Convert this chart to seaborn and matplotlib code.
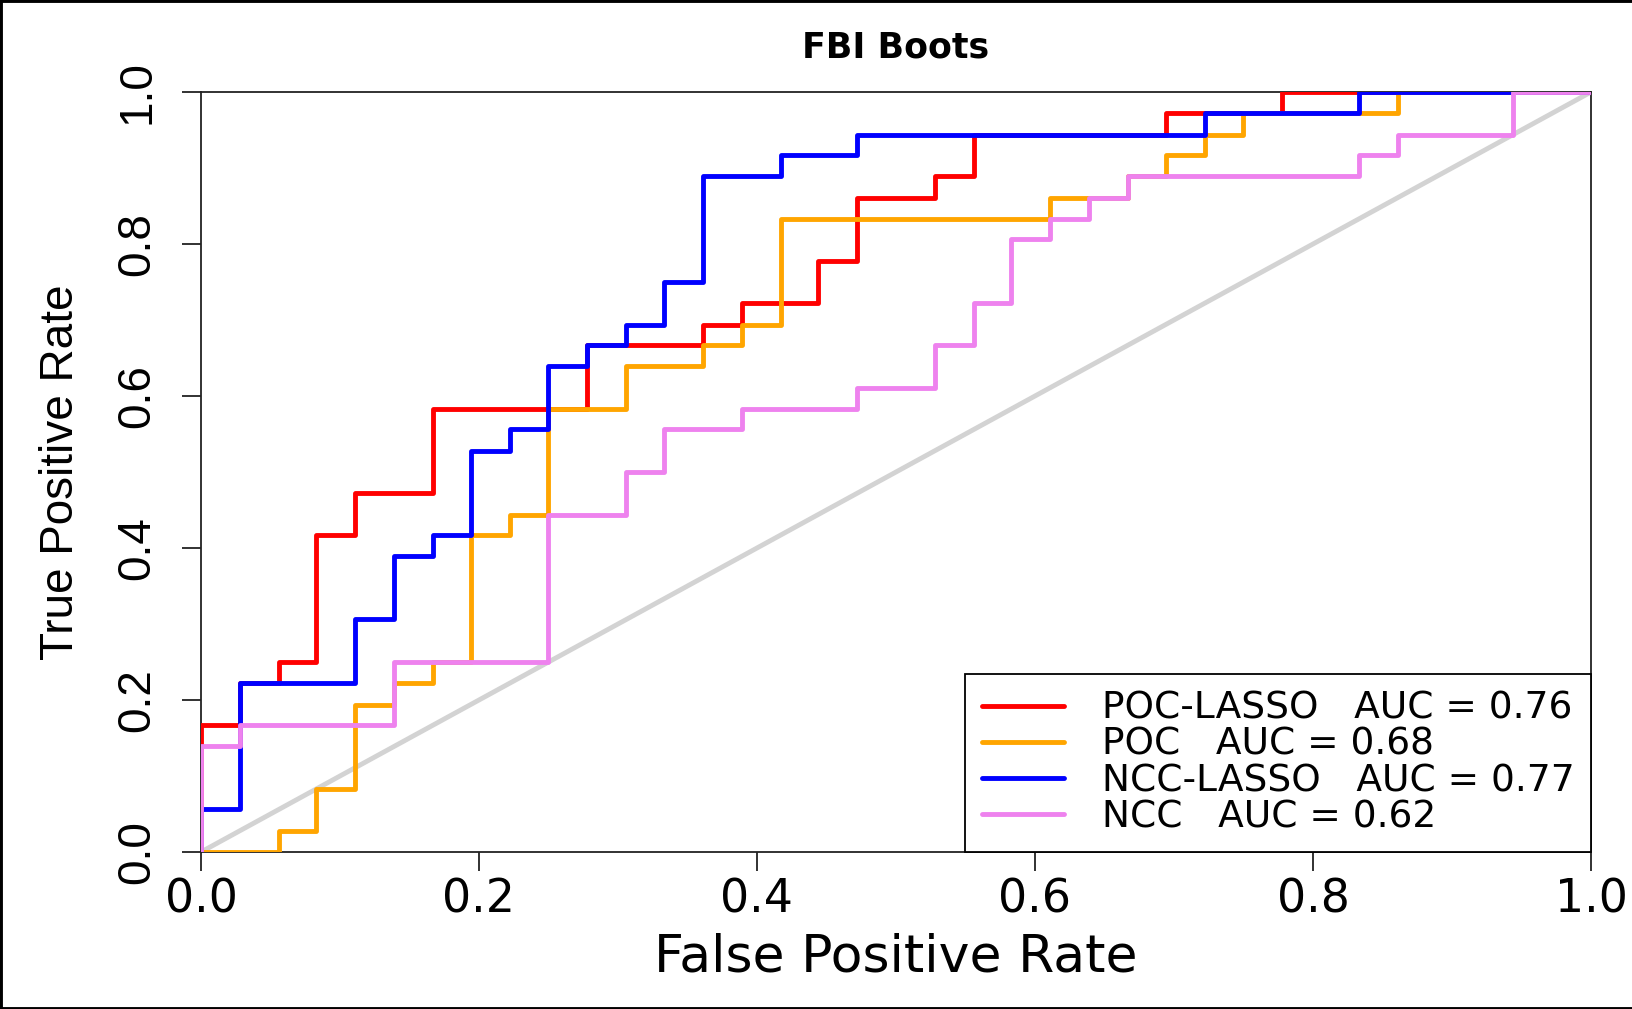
import matplotlib
matplotlib.use("Agg")
import matplotlib.pyplot as plt
from matplotlib import font_manager
from matplotlib.lines import Line2D
import seaborn as sns
import pandas as pd

# ---------------- data ----------------
TITLE = "FBI Boots"
X_LABEL = "False Positive Rate"
Y_LABEL = "True Positive Rate"
TICKS = [0.0, 0.2, 0.4, 0.6, 0.8, 1.0]
TICK_LABELS = ["0.0", "0.2", "0.4", "0.6", "0.8", "1.0"]

MODELS = ["POC-LASSO", "POC", "NCC-LASSO", "NCC"]
AUCS = [0.76, 0.68, 0.77, 0.62]
COLORS = ["red", "orange", "blue", "violet"]

# ROC vertices (end of each horizontal run), drawn as steps
poc_lasso_fpr = [0.0, 0.028, 0.056, 0.083, 0.111, 0.167, 0.278, 0.361, 0.389,
                 0.444, 0.472, 0.528, 0.556, 0.694, 0.778, 1.0]
poc_lasso_tpr = [0.0, 0.167, 0.222, 0.250, 0.417, 0.472, 0.583, 0.667, 0.694,
                 0.722, 0.778, 0.861, 0.889, 0.944, 0.972, 1.0]

poc_fpr = [0.0, 0.056, 0.083, 0.111, 0.139, 0.167, 0.194, 0.222, 0.250, 0.306,
           0.361, 0.389, 0.417, 0.611, 0.667, 0.694, 0.722, 0.750, 0.861, 1.0]
poc_tpr = [0.0, 0.0, 0.028, 0.083, 0.194, 0.222, 0.250, 0.417, 0.444, 0.583,
           0.639, 0.667, 0.694, 0.833, 0.861, 0.889, 0.917, 0.944, 0.972, 1.0]

ncc_lasso_fpr = [0.0, 0.028, 0.111, 0.139, 0.167, 0.194, 0.222, 0.250, 0.278,
                 0.306, 0.333, 0.361, 0.417, 0.472, 0.722, 0.833, 1.0]
ncc_lasso_tpr = [0.0, 0.056, 0.222, 0.306, 0.389, 0.417, 0.528, 0.556, 0.639,
                 0.667, 0.694, 0.750, 0.889, 0.917, 0.944, 0.972, 1.0]

ncc_fpr = [0.0, 0.028, 0.139, 0.250, 0.306, 0.333, 0.389, 0.472, 0.528, 0.556,
           0.583, 0.611, 0.639, 0.667, 0.833, 0.861, 0.944, 1.0]
ncc_tpr = [0.0, 0.139, 0.167, 0.250, 0.444, 0.500, 0.556, 0.583, 0.611, 0.667,
           0.722, 0.806, 0.833, 0.861, 0.889, 0.917, 0.944, 1.0]

DIAG = [0.0, 1.0]

CURVES = [(poc_lasso_fpr, poc_lasso_tpr), (poc_fpr, poc_tpr),
          (ncc_lasso_fpr, ncc_lasso_tpr), (ncc_fpr, ncc_tpr)]

# ---------------- style ----------------
sns.set_theme(style="ticks")
plt.rcParams["font.family"] = ["DejaVu Sans"]

names = {f.name for f in font_manager.fontManager.ttflist}
if "Liberation Sans Narrow" in names:
    YFONT, YSIZE, YPAD = "Liberation Sans Narrow", 37, 13
else:
    YFONT, YSIZE, YPAD = "Liberation Sans", 33, 16

W, H = 1633, 1009
fig = plt.figure(figsize=(W / 100, H / 100), dpi=100)
fig.patch.set_facecolor("white")
ax = fig.add_axes([201 / W, (H - 852) / H, 1390 / W, 760 / H])
ax.set_facecolor("white")

sns.lineplot(x=DIAG, y=DIAG, color="lightgray", linewidth=3.5,
             sort=False, estimator=None, ax=ax, zorder=1.5, legend=False)

for (fpr, tpr), name, auc, col in zip(CURVES, MODELS, AUCS, COLORS):
    df = pd.DataFrame({"fpr": fpr, "tpr": tpr})
    sns.lineplot(data=df, x="fpr", y="tpr", sort=False, estimator=None,
                 color=col, linewidth=3.5, drawstyle="steps-pre",
                 solid_capstyle="round", solid_joinstyle="round",
                 label=f"{name}   AUC = {auc:.2f}", ax=ax, zorder=2)

ax.set_xlim(0, 1)
ax.set_ylim(0, 1)
ax.set_xticks(TICKS, TICK_LABELS)
ax.set_yticks(TICKS, TICK_LABELS)
ax.tick_params(axis="both", direction="out", length=14, width=1.3,
               color="#222222", labelcolor="black")
ax.tick_params(axis="x", labelsize=33, pad=4.3)
ax.tick_params(axis="y", labelsize=YSIZE, pad=YPAD)
for lab in ax.get_yticklabels():
    lab.set_fontfamily(YFONT)
    lab.set_rotation(90)
    lab.set_va("center")

for s in ax.spines.values():
    s.set_visible(True)
    s.set_linewidth(1.3)
    s.set_color("#222222")
    s.set_zorder(1.0)

ax.set_xlabel(X_LABEL, fontsize=37.5, color="black")
ax.xaxis.label.set_va("baseline")
ax.xaxis.set_label_coords(0.5, (852 - 972) / 760)

ax.set_ylabel(Y_LABEL, fontsize=YSIZE, color="black", fontfamily=YFONT)
ax.yaxis.label.set_va("baseline")
ax.yaxis.set_label_coords((73 - 201) / 1390, 0.5)

ax.set_title(TITLE, fontsize=25, fontweight="bold", pad=24.5, color="black")

leg = ax.legend(loc="lower right", bbox_to_anchor=(1, 0), borderaxespad=0,
                fontsize=27, frameon=True, fancybox=False, edgecolor="black",
                facecolor="white", framealpha=1, borderpad=0.44,
                labelspacing=0.007, handlelength=2.2, handletextpad=1.0)
leg.get_frame().set_linewidth(1.3)
for t in leg.get_texts():
    t.set_color("black")

# outer picture frame (left, top, bottom)
for xs, ys in [([0, 0], [0, 1]), ([0, 1], [1, 1]), ([0, 1], [0, 0])]:
    fig.add_artist(Line2D(xs, ys, transform=fig.transFigure,
                          color="black", linewidth=3.5))

fig.savefig("out.png", dpi=100)
